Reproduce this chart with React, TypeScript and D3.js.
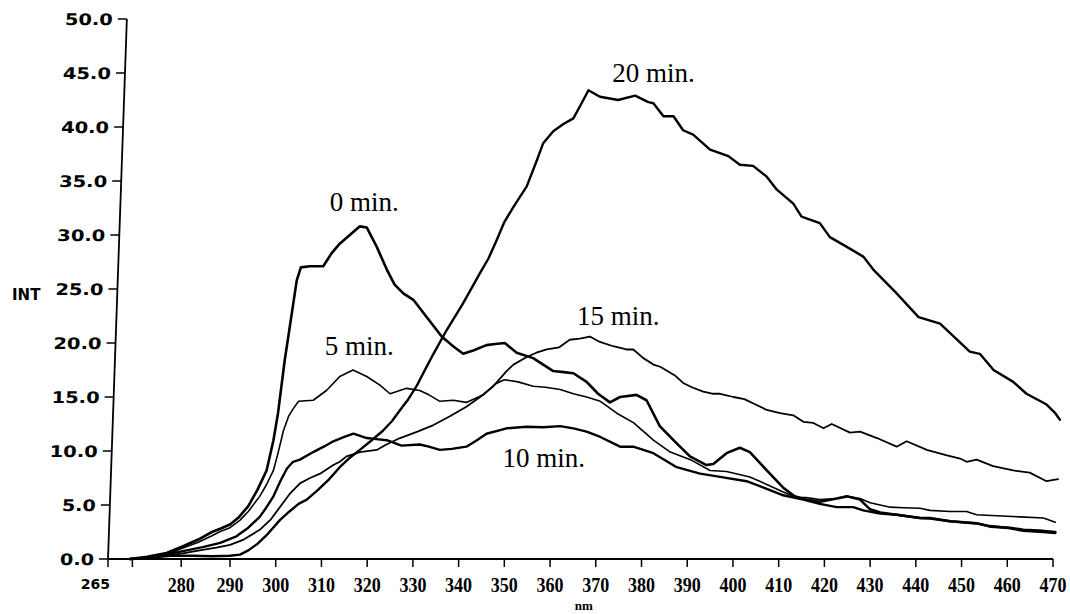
import React from "react";
import * as d3 from "d3";

type Pt = [number, number];

// wavelength (nm), intensity
const min0: Pt[] = [[269.5,0],[273,0.2],[277,0.55],[280.5,1.2],[283.5,1.8],[286.3,2.5],[288,2.8],[290,3.2],[292,3.9],[294,4.9],[296,6.4],[298,8.2],[299.5,11.0],[300.5,13.5],[302,18.5],[303.5,22.7],[304.6,25.8],[305.5,27.0],[307.5,27.1],[310.4,27.1],[312.2,28.3],[314,29.2],[316.2,30.0],[318.4,30.8],[319.9,30.7],[322.1,28.9],[324.3,26.8],[326,25.4],[327.9,24.6],[330.1,24.0],[333,22.4],[336.3,20.6],[338.8,19.7],[341,19.0],[343.2,19.3],[346.1,19.8],[348,19.9],[350.1,20.0],[352.7,19.1],[356.3,18.6],[358.5,18.0],[360.7,17.4],[363,17.3],[365.1,17.2],[368,16.4],[370.5,15.3],[373.1,14.5],[375.3,15.0],[378.9,15.2],[381.1,14.7],[384,12.3],[387.7,10.7],[390.6,9.5],[394.2,8.7],[395.7,8.8],[398.6,9.8],[401.5,10.3],[403.7,9.9],[407.4,8.2],[411,6.6],[413.5,5.8],[416,5.5],[419,5.3],[422.7,5.6],[424.9,5.8],[427.8,5.5],[430,4.6],[432.2,4.3],[435.8,4.1],[440.9,3.8],[443.1,3.8],[447.5,3.5],[453.3,3.3],[456.2,3.0],[460.6,2.9],[463.5,2.7],[467.9,2.6],[470.5,2.5]];

const min5: Pt[] = [[269.5,0],[273,0.15],[277,0.45],[280.5,1.05],[283.5,1.55],[286.3,2.15],[288,2.55],[290,2.9],[292.2,3.6],[294,4.4],[296.5,5.8],[298,6.9],[299.5,8.2],[300.5,9.8],[301.7,11.9],[302.8,13.2],[303.8,13.9],[305,14.6],[308.2,14.7],[311.1,15.6],[314,16.9],[316.9,17.5],[319.9,16.9],[322.8,16.1],[325,15.3],[328.6,15.8],[331.5,15.6],[333.5,15.2],[335.9,14.6],[338.8,14.7],[341.7,14.5],[345.4,15.2],[348,16.2],[350,16.6],[353,16.4],[356.3,16.0],[359,15.9],[362.2,15.7],[365.1,15.3],[368,15.0],[371,14.6],[374.6,13.5],[378.3,12.6],[382.6,11.0],[386.3,9.9],[390.7,9.2],[395,8.2],[398.6,8.1],[403.7,7.6],[407.4,6.9],[411,6.2],[413.9,5.7],[416,5.7],[419,5.5],[422.7,5.6],[424.9,5.8],[427.8,5.6],[430,5.2],[432.2,5.0],[434.4,4.8],[437.3,4.75],[440.9,4.7],[443.1,4.5],[447.5,4.4],[451.1,4.4],[453.3,4.1],[457.7,4.0],[462.8,3.9],[467.9,3.8],[470.5,3.4]];

const min10: Pt[] = [[269.5,0],[273,0.15],[277.7,0.5],[280.6,0.75],[284.4,1.1],[288,1.5],[291.4,2.1],[294,2.9],[296.5,3.9],[298,4.8],[299.5,5.8],[301,7.2],[302.5,8.4],[303.8,9.0],[305.3,9.2],[308.2,9.9],[310.5,10.4],[312.6,10.9],[315,11.3],[317,11.6],[319.9,11.2],[322,11.1],[324.3,11.0],[327.5,10.5],[331.5,10.6],[333.5,10.4],[335.9,10.1],[338.5,10.2],[341.7,10.4],[344,11.0],[346.1,11.6],[350.5,12.1],[354.9,12.25],[358.5,12.2],[362.2,12.3],[365.1,12.1],[368,11.8],[371,11.3],[375.3,10.4],[378.2,10.4],[382.6,9.8],[387.7,8.5],[392.8,7.9],[397.2,7.6],[403,7.2],[407.4,6.5],[411,5.9],[415.4,5.5],[419,5.1],[422.7,4.8],[426.3,4.8],[428.5,4.5],[432.2,4.2],[435.8,4.1],[440.9,3.8],[443.1,3.75],[447.5,3.5],[453.3,3.3],[456.2,3.05],[460.6,2.85],[463.5,2.6],[467.9,2.5],[470.5,2.4]];

const min15: Pt[] = [[269.5,0],[273,0.1],[277.8,0.35],[280.6,0.55],[284.4,0.85],[287.2,1.05],[290,1.3],[293,1.8],[296.5,2.7],[299,3.7],[300.9,4.8],[303,6.0],[305.3,7.0],[307.5,7.5],[309.7,7.9],[312.6,8.7],[314,9.0],[315.5,9.5],[318.4,9.9],[322.1,10.1],[324.2,10.6],[327.2,11.2],[331,11.8],[334.5,12.4],[338,13.2],[341.7,14.1],[344.7,15.0],[347.6,16.0],[350.5,17.4],[352,18.0],[354.9,18.7],[357,19.1],[359.3,19.4],[362,19.6],[364.3,20.3],[366.5,20.4],[368.7,20.6],[370.9,20.1],[373.8,19.7],[376.7,19.4],[378.2,19.4],[380.4,18.6],[382.6,18.0],[384.1,17.8],[387.3,17.0],[389.1,16.3],[391,15.9],[393.5,15.5],[395.7,15.3],[397.2,15.3],[400.1,15.0],[402.5,14.8],[404.5,14.4],[407.4,13.8],[410.3,13.5],[413.2,13.3],[415.4,12.7],[417.6,12.6],[419.8,12.1],[421.6,12.5],[425.6,11.7],[427.8,11.8],[431.5,11.2],[435.8,10.4],[438,10.9],[442.4,10.1],[446.8,9.6],[449.7,9.3],[451.1,9.0],[453.3,9.2],[456.9,8.6],[461.3,8.2],[464.9,8.0],[468.6,7.2],[471.1,7.4]];

const min20: Pt[] = [[269.5,0],[273,0.1],[277.8,0.3],[282.5,0.3],[286.3,0.25],[290,0.3],[292.2,0.4],[294,0.8],[296,1.4],[298,2.2],[300.9,3.6],[303,4.4],[305,5.1],[306.8,5.5],[309,6.3],[311.5,7.3],[314,8.5],[316,9.3],[318.4,10.1],[321,11.0],[323.5,11.9],[325.5,12.8],[327.2,13.8],[329,14.8],[330.8,16.0],[332.5,17.4],[334.5,19.0],[337.4,21.2],[341,23.7],[344.7,26.5],[346.5,27.8],[348.2,29.4],[350,31.2],[352,32.6],[354.9,34.5],[357.1,36.9],[358.5,38.5],[360.7,39.6],[363,40.3],[365.1,40.8],[366.9,42.2],[368.4,43.4],[370.9,42.8],[374.9,42.5],[378.6,42.9],[381.5,42.3],[382.6,42.2],[384.8,41.0],[387,41.0],[389.1,39.7],[391.3,39.3],[395,37.9],[399,37.3],[401.5,36.5],[404.4,36.4],[407.4,35.4],[409.6,34.2],[413.2,32.9],[415,31.7],[419,31.1],[421.2,29.8],[424.9,28.9],[428.5,28.0],[430.7,26.8],[435.8,24.6],[440.6,22.4],[445.3,21.8],[451.8,19.2],[454,19.0],[457,17.5],[461.3,16.4],[464.2,15.3],[468.6,14.3],[470.5,13.5],[471.5,12.9]];

const seriesNames = ["0 min.", "5 min.", "10 min.", "15 min.", "20 min."];
const seriesData = [min0, min5, min10, min15, min20];
const xTickValues = [280, 290, 300, 310, 320, 330, 340, 350, 360, 370, 380, 390, 400, 410, 420, 430, 440, 450, 460, 470];
const xMinorTicks = [270];
const xOriginLabel = "265";
const yTickValues = [0, 5, 10, 15, 20, 25, 30, 35, 40, 45, 50];
const xTitle = "nm";
const yTitle = "INT";

// label anchors in data coordinates (wavelength, intensity) - start of text baseline
const labelAnchors: Pt[] = [[311.8, 32.2], [310.7, 18.9], [349.6, 8.5], [365.9, 21.7], [373.6, 44.2]];
const strokeWidths = [2.6, 1.6, 2.4, 1.8, 2.4];

export default function App() {
  const W = 1070, H = 614;
  const x = d3.scaleLinear().domain([265, 290, 470]).range([108, 230, 1053]);
  const y = d3.scaleLinear().domain([0, 50]).range([559, 19]);
  const yRel = d3.scaleLinear().domain([0, 50]).range([0, -540]);
  const line = d3.line<Pt>().x(d => x(d[0])).y(d => y(d[1]));
  const x0 = x(265);
  const y0 = y(0);
  const sans = "'DejaVu Sans', sans-serif";
  const serif = "'Liberation Serif', 'Times New Roman', serif";

  return (
    <svg width={W} height={H} style={{ position: "absolute", left: 0, top: 0, background: "#fff" }}>
      <rect x={0} y={0} width={W} height={H} fill="#fff" />
      {/* y axis, slightly tilted as in scan */}
      <g transform={`translate(${x0},${y0}) skewX(-2)`}>
        <line x1={0} y1={0} x2={0} y2={yRel(50)} stroke="#000" strokeWidth={1.8} />
        {yTickValues.map(v => {
          const lbl = v.toFixed(1);
          const digits = lbl.replace(".", "").length;
          return (
            <g key={v} transform={`translate(0,${yRel(v)})`}>
              <line x1={-9} x2={0} y1={0} y2={0} stroke="#000" strokeWidth={1.5} />
              <text x={-14} y={6} textAnchor="end" fontFamily={sans} fontWeight="bold" fontSize={16}
                textLength={digits * 14 + 6} lengthAdjust="spacingAndGlyphs" fill="#000">{lbl}</text>
            </g>
          );
        })}
      </g>
      <text x={12} y={300} fontFamily={sans} fontWeight="bold" fontSize={15} fill="#000">{yTitle}</text>

      {/* x axis */}
      <line x1={x0} x2={x(470)} y1={y0} y2={y0} stroke="#000" strokeWidth={2} />
      {[265, ...xMinorTicks, ...xTickValues].map(v => (
        <line key={v} x1={x(v)} x2={x(v)} y1={y0} y2={y0 + 8} stroke="#000" strokeWidth={1.5} />
      ))}
      {xTickValues.map(v => (
        <text key={v} x={x(v)} y={592} textAnchor="middle" fontFamily={serif} fontWeight="bold" fontSize={20}
          textLength={27} lengthAdjust="spacingAndGlyphs" fill="#000">{v}</text>
      ))}
      <text x={x0 + 2} y={589} textAnchor="end" fontFamily={sans} fontWeight="bold" fontSize={14} fill="#000">{xOriginLabel}</text>
      <text x={x(370) - 12} y={610} textAnchor="middle" fontFamily={serif} fontWeight="bold" fontSize={13} fill="#000">{xTitle}</text>

      {/* curves */}
      {seriesData.map((d, i) => (
        <path key={seriesNames[i]} d={line(d) || ""} fill="none" stroke="#000" strokeWidth={strokeWidths[i]}
          strokeLinejoin="round" strokeLinecap="round" />
      ))}
      {seriesNames.map((n, i) => (
        <text key={n} x={x(labelAnchors[i][0])} y={y(labelAnchors[i][1])} fontFamily={serif} fontSize={27} fill="#000">{n}</text>
      ))}
    </svg>
  );
}
